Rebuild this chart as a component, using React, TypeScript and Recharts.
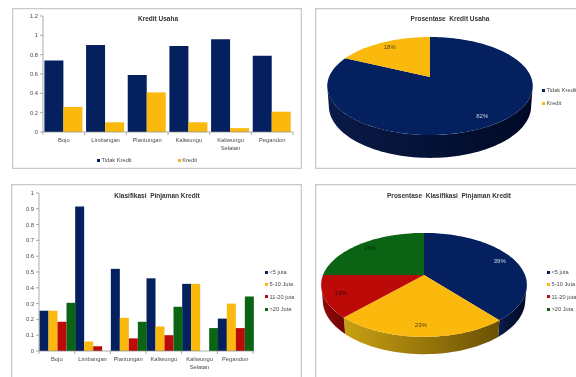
import React from "react";
import { BarChart, Bar, PieChart, Pie, XAxis, YAxis, Legend, Text } from "recharts";

const districts = ["Bojo", "Limbangan", "Plantungan", "Kaliwungu", "Kaliwungu Selatan", "Pegandon"];

const tidakKredit = [0.74, 0.9, 0.59, 0.89, 0.96, 0.79];
const kredit = [0.26, 0.1, 0.41, 0.1, 0.04, 0.21];

const under5 = [0.255, 0.915, 0.52, 0.46, 0.425, 0.205];
const from5to10 = [0.255, 0.06, 0.21, 0.155, 0.425, 0.3];
const from11to20 = [0.185, 0.03, 0.08, 0.1, 0, 0.145];
const over20 = [0.305, 0, 0.185, 0.28, 0.145, 0.345];

const kreditNames = ["Tidak Kredit", "Kredit"];
const kreditShare = [82, 18];
const pinjamanNames = ["<5 juta", "5-10 Juta", "11-20 juta", ">20 Juta"];
const pinjamanShare = [39, 23, 13, 25];

const ticksKredit = [0, 0.2, 0.4, 0.6, 0.8, 1, 1.2];
const ticksPinjaman = [0, 0.1, 0.2, 0.3, 0.4, 0.5, 0.6, 0.7, 0.8, 0.9, 1];

const NAVY = "#04205f";
const YELLOW = "#fbb80d";
const RED = "#bb0a08";
const GREEN = "#0b6314";
const TEXT = "#4a4a4a";
const AXIS = "#8a8a8a";
const FONT = "'Liberation Sans', Arial, sans-serif";

const sliceColors = [NAVY, YELLOW, RED, GREEN];
const wallColors = [
  ["#0a1a48", "#000a26"],
  ["#c9a012", "#6a5004"],
  ["#960a08", "#6e0504"],
  ["#07430d", "#04300a"],
];

const kreditRows = districts.map((name, i) => ({ name, tidak: tidakKredit[i], kredit: kredit[i] }));
const pinjamanRows = districts.map((name, i) => ({
  name,
  a: under5[i],
  b: from5to10[i],
  c: from11to20[i],
  d: over20[i],
}));
const kreditSlices = kreditNames.map((name, i) => ({ name, value: kreditShare[i], fill: sliceColors[i] }));
const pinjamanSlices = pinjamanNames.map((name, i) => ({ name, value: pinjamanShare[i], fill: sliceColors[i] }));

const rad = (deg: number) => (deg * Math.PI) / 180;

// the tilted pie is a circle seen in perspective, front bigger than back
function project(p: any, deg: number, rho = 1, drop = 0) {
  const s = 1 / (1 + p.k * Math.sin(rad(deg)) * rho);
  return {
    x: p.cx + p.r * rho * Math.cos(rad(deg)) * s,
    y: p.cy - p.ry * rho * Math.sin(rad(deg)) * s + drop * s,
  };
}

function arc(p: any, from: number, to: number, rho = 1, drop = 0) {
  const steps = Math.max(2, Math.ceil(Math.abs(from - to) / 2));
  const pts = [];
  for (let i = 0; i <= steps; i++) {
    const q = project(p, from + ((to - from) * i) / steps, rho, drop);
    pts.push(`${q.x.toFixed(2)} ${q.y.toFixed(2)}`);
  }
  return pts;
}

function makeSlice(ry: number, k: number, depth: number, prefix: string) {
  return (props: any) => {
    const p = { cx: props.cx, cy: props.cy, r: props.outerRadius, ry, k };
    const theta = (Math.asin(k) * 180) / Math.PI;
    const hi = Math.min(props.startAngle, -theta);
    const lo = Math.max(props.endAngle, -180 + theta);
    const id = `${prefix}-${props.index}`;
    const wall = wallColors[props.index];
    const top = arc(p, props.startAngle, props.endAngle);
    return (
      <g>
        {hi > lo && (
          <>
            <defs>
              <linearGradient id={id} x1="0" x2="1" y1="0" y2="0">
                <stop offset="0" stopColor={wall[0]} />
                <stop offset="1" stopColor={wall[1]} />
              </linearGradient>
            </defs>
            <path
              d={`M${[...arc(p, hi, lo), ...arc(p, lo, hi, 0.985, depth)].join("L")}Z`}
              fill={`url(#${id})`}
            />
          </>
        )}
        <path d={`M${props.cx} ${props.cy}L${top.join("L")}Z`} fill={props.fill} />
      </g>
    );
  };
}

function makeLabel(ry: number, k: number, colors: string[]) {
  return (props: any) => {
    const q = project({ cx: props.cx, cy: props.cy, r: props.outerRadius, ry, k }, props.midAngle, 0.84);
    return (
      <text
        x={q.x}
        y={q.y}
        textAnchor="middle"
        dominantBaseline="central"
        fontSize={6}
        fontFamily={FONT}
        fill={colors[props.index]}
      >
        {`${Math.round(props.percent * 100)}%`}
      </text>
    );
  };
}

function makeTick(band: number) {
  return (props: any) => {
    const { x, y, payload, index } = props;
    return (
      <g>
        <line x1={x - band / 2} x2={x - band / 2} y1={y - 8} y2={y - 5} stroke={AXIS} strokeWidth={0.7} />
        {index === districts.length - 1 && (
          <line x1={x + band / 2} x2={x + band / 2} y1={y - 8} y2={y - 5} stroke={AXIS} strokeWidth={0.7} />
        )}
        <Text
          x={x}
          y={y - 2}
          width={band}
          lineHeight="8px"
          textAnchor="middle"
          verticalAnchor="start"
          fontSize={5.8}
          fontFamily={FONT}
          fill={TEXT}
        >
          {payload.value}
        </Text>
      </g>
    );
  };
}

function legendContent(direction: "row" | "column", gap: number) {
  return (props: any) => (
    <div style={{ display: "flex", flexDirection: direction, gap, fontFamily: FONT, fontSize: 5.7, color: TEXT, lineHeight: "8px", whiteSpace: "nowrap" }}>
      {props.payload.map((item: any) => (
        <div key={item.value} style={{ display: "flex", alignItems: "center", gap: 1.5 }}>
          <span style={{ width: 3, height: 3, background: item.color, display: "inline-block" }} />
          {item.value}
        </div>
      ))}
    </div>
  );
}

function Panel({ left, top, width, height, title, titleX, titleY, children }: any) {
  return (
    <div style={{ position: "absolute", left, top, width, height, background: "#fff", boxShadow: "inset 0 0 0 1.3px #c9c9c9" }}>
      <div
        style={{
          position: "absolute",
          left: titleX - left - 100,
          top: titleY - top - 5,
          width: 200,
          textAlign: "center",
          fontFamily: FONT,
          fontWeight: "bold",
          fontSize: 6.5,
          lineHeight: "10px",
          color: "#333",
          whiteSpace: "pre",
        }}
      >
        {title}
      </div>
      {children}
    </div>
  );
}

const axisLine = { stroke: AXIS, strokeWidth: 0.7 };
const yTick = { fontSize: 5.8, fontFamily: FONT, fill: TEXT };
const noMargin = { top: 0, right: 0, bottom: 0, left: 0 };

export default function App() {
  return (
    <div style={{ position: "absolute", left: 0, top: 0, width: 576, height: 377, overflow: "hidden", background: "#fff", filter: "blur(0.45px)" }}>
      <Panel left={12} top={8} width={290} height={161} title="Kredit Usaha" titleX={158} titleY={19}>
        <BarChart
          width={290}
          height={161}
          data={kreditRows}
          margin={{ top: 8, right: 9, left: 0, bottom: 0 }}
          barCategoryGap={1.4}
          barGap={0}
          style={{ position: "absolute" }}
        >
          <XAxis dataKey="name" interval={0} height={37} axisLine={axisLine} tickLine={false} tick={makeTick(250 / 6)} />
          <YAxis width={31} domain={[0, 1.2]} ticks={ticksKredit} axisLine={axisLine} tickLine={axisLine} tickSize={3} tickMargin={2} tick={yTick} />
          <Legend itemSorter={null} layout="horizontal" verticalAlign="middle" align="center" wrapperStyle={{ left: 85, top: 148, width: 150 }} content={legendContent("row", 46)} />
          <Bar dataKey="tidak" name="Tidak Kredit" fill={NAVY} isAnimationActive={false} />
          <Bar dataKey="kredit" name="Kredit" fill={YELLOW} isAnimationActive={false} />
        </BarChart>
      </Panel>

      <Panel left={315} top={8} width={270} height={161} title={"Prosentase  Kredit Usaha"} titleX={450} titleY={19}>
        <PieChart width={270} height={161} margin={noMargin} style={{ position: "absolute" }}>
          <Legend itemSorter={null} layout="horizontal" verticalAlign="middle" align="center" wrapperStyle={{ left: 227, top: 78, width: 50 }} content={legendContent("column", 5)} />
          <Pie
            data={kreditSlices}
            dataKey="value"
            nameKey="name"
            cx={115}
            cy={69}
            outerRadius={101}
            startAngle={90}
            endAngle={-270}
            labelLine={false}
            label={makeLabel(47.35, 0.184, ["#c8d0e0", "#5a4a10"])}
            shape={makeSlice(47.35, 0.184, 19.6, "wk")}
            stroke="none"
            isAnimationActive={false}
          />
        </PieChart>
      </Panel>

      <Panel left={11} top={184} width={291} height={200} title={"Klasifikasi  Pinjaman Kredit"} titleX={157} titleY={196}>
        <BarChart
          width={291}
          height={193}
          data={pinjamanRows}
          margin={{ top: 9, right: 49, left: 0, bottom: 0 }}
          barCategoryGap={0.5}
          barGap={0}
          style={{ position: "absolute" }}
        >
          <XAxis dataKey="name" interval={0} height={26} axisLine={axisLine} tickLine={false} tick={makeTick(214 / 6)} />
          <YAxis width={28} domain={[0, 1]} ticks={ticksPinjaman} axisLine={axisLine} tickLine={axisLine} tickSize={3} tickMargin={2} tick={yTick} />
          <Legend itemSorter={null} layout="horizontal" verticalAlign="middle" align="center" wrapperStyle={{ left: 254, top: 84, width: 50 }} content={legendContent("column", 4.4)} />
          <Bar dataKey="a" name="<5 juta" fill={NAVY} isAnimationActive={false} />
          <Bar dataKey="b" name="5-10 Juta" fill={YELLOW} isAnimationActive={false} />
          <Bar dataKey="c" name="11-20 juta" fill={RED} isAnimationActive={false} />
          <Bar dataKey="d" name=">20 Juta" fill={GREEN} isAnimationActive={false} />
        </BarChart>
      </Panel>

      <Panel left={315} top={184} width={270} height={200} title={"Prosentase  Klasifikasi  Pinjaman Kredit"} titleX={449} titleY={196}>
        <PieChart width={270} height={193} margin={noMargin} style={{ position: "absolute" }}>
          <Legend itemSorter={null} layout="horizontal" verticalAlign="middle" align="center" wrapperStyle={{ left: 232, top: 84, width: 50 }} content={legendContent("column", 4.4)} />
          <Pie
            data={pinjamanSlices}
            dataKey="value"
            nameKey="name"
            cx={109}
            cy={91}
            outerRadius={101}
            startAngle={90}
            endAngle={-270}
            labelLine={false}
            label={makeLabel(50.1, 0.19, ["#d0d8e8", "#4a3a05", "#3a0505", "#04300a"])}
            shape={makeSlice(50.1, 0.19, 15, "wp")}
            stroke="none"
            isAnimationActive={false}
          />
        </PieChart>
      </Panel>
    </div>
  );
}
